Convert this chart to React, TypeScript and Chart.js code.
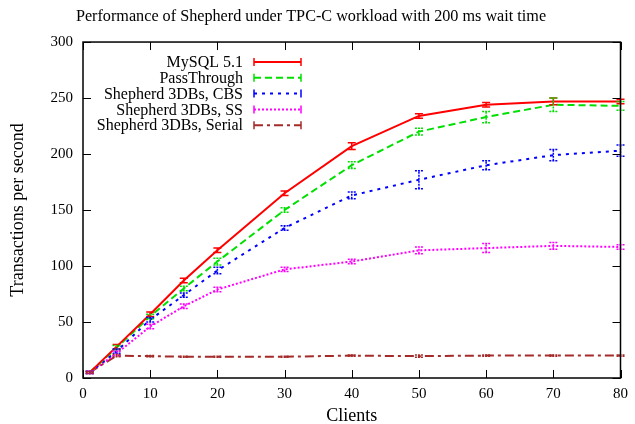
import React, { useEffect, useRef } from "react";
import { Chart, registerables } from "chart.js";

Chart.register(...registerables);

const clients = [1, 5, 10, 15, 20, 30, 40, 50, 60, 70, 80];
const mysql = [5, 28, 57, 87, 114, 165, 207, 234, 244, 247, 247];
const mysqlErr = [1, 2, 2, 2, 2, 2, 3, 2, 2, 3, 2];
const passThrough = [5, 27, 55, 80, 104, 150, 190, 220, 233, 244, 243];
const passThroughErr = [1, 2, 2, 2, 3, 2, 3, 3, 5, 6, 4];
const cbs = [5, 24, 52, 74, 96, 134, 163, 177, 190, 199, 203];
const cbsErr = [1, 2, 2, 2, 3, 2, 3, 8, 4, 5, 5];
const ss = [5, 22, 46, 64, 79, 97, 104, 114, 116, 118, 117];
const ssErr = [1, 2, 2, 2, 2, 2, 2, 3, 4, 3, 2];
const serial = [5, 20, 19.5, 19, 19, 19, 20, 19.5, 20, 20, 20];
const serialErr = [0.5, 1, 0.5, 0.5, 0.5, 0.5, 0.5, 1, 0.5, 0.5, 0.5];

const seriesLabels = [
  "MySQL 5.1",
  "PassThrough",
  "Shepherd 3DBs, CBS",
  "Shepherd 3DBs, SS",
  "Shepherd 3DBs, Serial",
];
const seriesValues = [mysql, passThrough, cbs, ss, serial];
const seriesErrors = [mysqlErr, passThroughErr, cbsErr, ssErr, serialErr];
const seriesColors = ["#ff0000", "#00e000", "#0000ff", "#ff00ff", "#a52a2a"];
const seriesDash = [[], [7, 4], [3, 5], [2, 2], [9, 4, 3, 4]];

const FONT = "'Liberation Serif', 'Times New Roman', serif";

const customPlugin = {
  id: "gnuplotStyle",
  afterDatasetsDraw(chart: any) {
    const ctx = chart.ctx;
    const xs = chart.scales.x;
    const ys = chart.scales.y;
    chart.data.datasets.forEach((ds: any, di: number) => {
      const errs = seriesErrors[di];
      ctx.save();
      ctx.strokeStyle = ds.borderColor;
      ctx.lineWidth = 1.5;
      ctx.setLineDash(seriesDash[di].length ? [2, 1] : []);
      ds.data.forEach((p: any, i: number) => {
        const px = xs.getPixelForValue(p.x);
        const y1 = ys.getPixelForValue(p.y - errs[i]);
        const y2 = ys.getPixelForValue(p.y + errs[i]);
        ctx.beginPath();
        ctx.moveTo(px, y1);
        ctx.lineTo(px, y2);
        ctx.moveTo(px - 4, y1);
        ctx.lineTo(px + 4, y1);
        ctx.moveTo(px - 4, y2);
        ctx.lineTo(px + 4, y2);
        ctx.stroke();
      });
      ctx.restore();
    });
  },
  afterDraw(chart: any) {
    const ctx = chart.ctx;
    const xs = chart.scales.x;
    const ys = chart.scales.y;
    const a = chart.chartArea;
    ctx.save();
    ctx.strokeStyle = "#000";
    ctx.lineWidth = 1;
    ctx.setLineDash([]);
    ctx.beginPath();
    xs.ticks.forEach((t: any) => {
      const px = Math.round(xs.getPixelForValue(t.value)) + 0.5;
      ctx.moveTo(px, a.bottom);
      ctx.lineTo(px, a.bottom - 8);
      ctx.moveTo(px, a.top);
      ctx.lineTo(px, a.top + 8);
    });
    ys.ticks.forEach((t: any) => {
      const py = Math.round(ys.getPixelForValue(t.value)) + 0.5;
      ctx.moveTo(a.left, py);
      ctx.lineTo(a.left + 8, py);
      ctx.moveTo(a.right, py);
      ctx.lineTo(a.right - 8, py);
    });
    ctx.stroke();
    ctx.lineWidth = 1.5;
    ctx.strokeRect(a.left, a.top, a.right - a.left, a.bottom - a.top);
    // legend
    ctx.font = `16px ${FONT}`;
    ctx.textAlign = "right";
    ctx.textBaseline = "middle";
    const textRight = 243;
    const l1 = 254;
    const l2 = 301;
    const y0 = 62;
    const dy = 15.8;
    seriesLabels.forEach((lab, i) => {
      const y = y0 + i * dy;
      ctx.fillStyle = "#000";
      ctx.fillText(lab, textRight, y + 1);
      ctx.strokeStyle = seriesColors[i];
      ctx.lineWidth = 2;
      ctx.setLineDash(seriesDash[i]);
      ctx.beginPath();
      ctx.moveTo(l1, y);
      ctx.lineTo(l2, y);
      ctx.stroke();
      ctx.lineWidth = 1.5;
      ctx.setLineDash([]);
      ctx.beginPath();
      ctx.moveTo(l1, y - 4);
      ctx.lineTo(l1, y + 4);
      ctx.moveTo(l2, y - 4);
      ctx.lineTo(l2, y + 4);
      ctx.stroke();
    });
    ctx.restore();
  },
};

export default function App() {
  const ref = useRef<HTMLCanvasElement | null>(null);
  useEffect(() => {
    document.body.style.margin = "0";
    const canvas = ref.current;
    if (!canvas) return;
    const chart = new Chart(canvas, {
      type: "line",
      data: {
        datasets: seriesValues.map((vals, i) => ({
          label: seriesLabels[i],
          data: clients.map((c, j) => ({ x: c, y: vals[j] })),
          borderColor: seriesColors[i],
          backgroundColor: seriesColors[i],
          borderWidth: 2,
          borderDash: seriesDash[i],
          pointRadius: 0,
          tension: 0,
          fill: false,
        })),
      },
      options: {
        responsive: false,
        animation: false,
        layout: { padding: { left: 0, right: 13, top: 0, bottom: 0 } },
        plugins: {
          legend: { display: false },
          tooltip: { enabled: false },
          title: {
            display: true,
            text: "Performance of Shepherd under TPC-C workload with 200 ms wait time",
            color: "#000",
            font: { family: FONT, size: 16.2, weight: "normal", lineHeight: 1.2 },
            padding: { top: 7, bottom: 15.6 },
          },
        },
        scales: {
          x: {
            type: "linear",
            min: 0,
            max: 80,
            grid: { display: false, drawTicks: false },
            border: { display: false },
            ticks: {
              stepSize: 10,
              color: "#000",
              font: { family: FONT, size: 15 },
              padding: 7,
              maxRotation: 0,
            },
            title: {
              display: true,
              text: "Clients",
              color: "#000",
              font: { family: FONT, size: 18, lineHeight: 0.9 },
              padding: { top: 0, bottom: 0 },
            },
            afterFit: (s: any) => {
              s.height = 46;
            },
          },
          y: {
            type: "linear",
            min: 0,
            max: 300,
            grid: { display: false, drawTicks: false },
            border: { display: false },
            ticks: {
              stepSize: 50,
              color: "#000",
              font: { family: FONT, size: 15 },
              padding: 10,
            },
            title: {
              display: true,
              text: "Transactions per second",
              color: "#000",
              font: { family: FONT, size: 18 },
              padding: { top: 7, bottom: 0 },
            },
            afterFit: (s: any) => {
              s.width = 83;
            },
          },
        },
      },
      plugins: [customPlugin],
    });
    return () => chart.destroy();
  }, []);
  return (
    <div style={{ width: 635, height: 424 }}>
      <canvas ref={ref} width={635} height={424} />
    </div>
  );
}
